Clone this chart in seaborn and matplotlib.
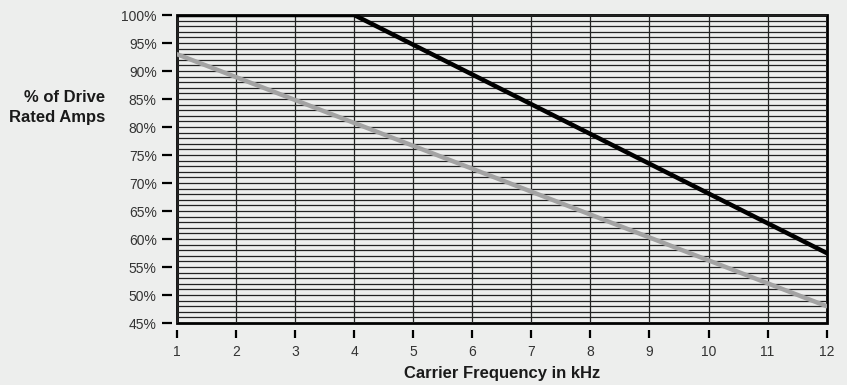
import matplotlib
matplotlib.use("Agg")
import matplotlib.pyplot as plt
import seaborn as sns
import pandas as pd

# derating curves
freq_black = [1, 4, 12]
amps_black = [100, 100, 57.5]
freq_gray = [1, 12]
amps_gray = [93, 48]

x_ticks = list(range(1, 13))
y_ticks = list(range(45, 101, 5))
y_labels = [f"{v}%" for v in y_ticks]

bg = "#edeeed"

sns.set_style("white")
plt.rcParams['font.family'] = ['Liberation Sans Narrow', 'Liberation Sans', 'DejaVu Sans']

fig, ax = plt.subplots(figsize=(8.47, 3.85), dpi=100)
fig.patch.set_facecolor(bg)
ax.set_facecolor(bg)
fig.subplots_adjust(left=0.209, right=0.976, top=0.961, bottom=0.161)

ax.set_xlim(1, 12)
ax.set_ylim(45, 100)

# grid: each kHz and each 1%
ax.set_xticks(x_ticks)
ax.set_yticks(y_ticks)
ax.set_yticklabels(y_labels)
ax.set_yticks(range(45, 101), minor=True)
ax.set_axisbelow(True)
ax.grid(True, which="both", axis="y", color="#222222", linewidth=0.9)
ax.grid(True, which="major", axis="x", color="#222222", linewidth=0.9)

df_black = pd.DataFrame({"freq": freq_black, "amps": amps_black})
df_gray = pd.DataFrame({"freq": freq_gray, "amps": amps_gray})
sns.lineplot(data=df_gray, x="freq", y="amps", color="#a3a3a3", linewidth=3.2, ax=ax, zorder=5)
sns.lineplot(data=df_black, x="freq", y="amps", color="black", linewidth=3.2, ax=ax, zorder=6)

# detached ticks: push spines out and draw the frame with the axes patch
for s in ax.spines.values():
    s.set_visible(False)
ax.spines['left'].set_position(('outward', 3.6))
ax.spines['bottom'].set_position(('outward', 5))
ax.patch.set_edgecolor("black")
ax.patch.set_linewidth(2.0)

ax.tick_params(axis="both", which="major", direction="out", width=1.6,
               color="black", labelsize=10, labelcolor="#333333",
               bottom=True, left=True)
ax.tick_params(axis="y", which="major", length=7, pad=4)
ax.tick_params(axis="x", which="major", length=6, pad=5)
ax.tick_params(axis="y", which="minor", length=0, left=False)

ax.set_xlabel("Carrier Frequency in kHz", fontsize=12, fontweight="bold",
              color="#1a1a1a", labelpad=5)
ax.set_ylabel("")
ax.text(-0.111, 0.70, "% of Drive\nRated Amps", transform=ax.transAxes,
        ha="right", va="center", fontsize=12, fontweight="bold",
        color="#1a1a1a", linespacing=1.35)

fig.savefig("out.png", dpi=100, facecolor=bg)
